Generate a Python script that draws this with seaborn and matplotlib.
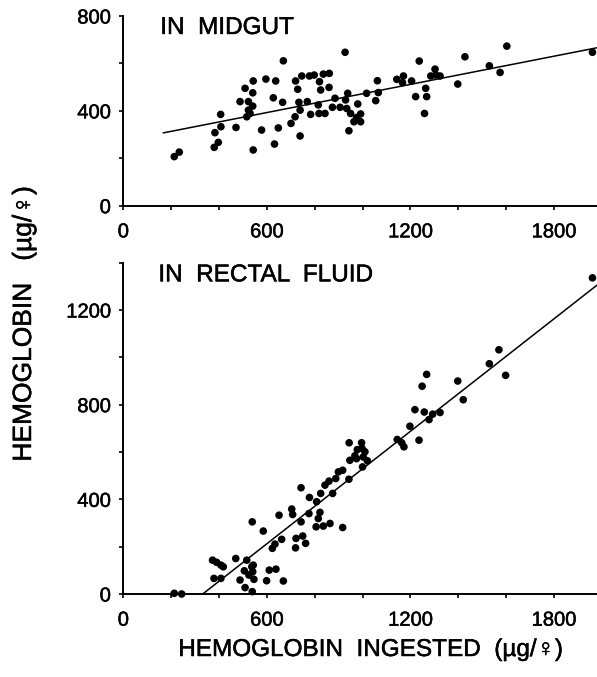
import numpy as np
import pandas as pd
import matplotlib
matplotlib.use("Agg")
import matplotlib.pyplot as plt
import matplotlib.patheffects as pe
import seaborn as sns

# ---- data ----
midgut_x = [213, 234, 380, 397, 383, 408, 407, 471, 488, 509, 523, 523, 516, 530, 541, 543,
            541, 543, 578, 596, 627, 637, 632, 648, 666, 669, 701, 718, 720, 729, 734, 739,
            739, 746, 769, 778, 783, 798, 815, 820, 825, 836, 843, 818, 861, 860, 874, 885,
            906, 927, 938, 929, 934, 943, 950, 964, 980, 992, 992, 975, 1017, 1055, 1062,
            1066, 1143, 1171, 1167, 1205, 1222, 1237, 1259, 1264, 1268, 1285, 1303, 1306,
            1324, 1398, 1428, 1530, 1575, 1603, 1961]
midgut_y = [207, 226, 246, 267, 308, 333, 385, 330, 439, 495, 439, 403, 375, 389, 476, 526,
            420, 235, 319, 534, 455, 526, 260, 328, 436, 611, 347, 375, 526, 491, 436, 403,
            294, 547, 439, 547, 385, 551, 425, 523, 488, 555, 389, 389, 558, 499, 415, 453,
            415, 647, 474, 446, 410, 316, 389, 354, 429, 387, 354, 372, 474, 443, 527,
            477, 533, 547, 519, 526, 460, 610, 389, 495, 460, 547, 576, 551,
            547, 513, 628, 590, 562, 673, 647]

rectal_x = [213, 244, 373, 390, 408, 418, 379, 408, 470, 488, 509, 506, 516, 525, 537, 543,
            541, 546, 539, 539, 585, 599, 610, 638, 669, 623, 634, 662, 651, 704, 708, 720,
            722, 743, 743, 750, 762, 776, 778, 806, 808, 815, 822, 825, 836, 864, 843, 860,
            875, 888, 899, 917, 917, 943, 944, 947, 968, 978, 975, 996, 1000, 1003, 1010,
            1020, 998, 1145, 1164, 1173, 1198, 1219, 1236, 1249, 1258, 1268, 1278, 1293,
            1324, 1398, 1421, 1530, 1570, 1598, 1961]
rectal_y = [3, 0, 143, 134, 122, 115, 66, 66, 150, 59, 27, 98, 143, 80, 115, 122,
            94, 62, 10, 305, 266, 56, 101, 105, 55, 193, 211, 231, 333, 359, 336, 195,
            235, 305, 449, 245, 214, 340, 408, 284, 390, 319, 345, 425, 287, 298, 460, 477,
            425, 488, 516, 523, 281, 485, 639, 565, 584, 610, 572, 639, 537, 579, 601,
            563, 615, 653, 639, 622, 709, 779, 650, 878, 769, 928, 737, 760,
            767, 900, 821, 973, 1032, 924, 1336]

# fitted lines as drawn in the figure
midgut_fit = {"intercept": 274, "slope": 0.198, "x0": 167}
rectal_fit = {"x_intercept": 332, "slope": 0.792}

x_major = [0, 600, 1200, 1800]
top_y_major = [0, 400, 800]
bot_y_major = [0, 400, 800, 1200]

sns.set_style("ticks")
plt.rcParams["font.family"] = ["Liberation Sans", "Noto Sans CJK JP", "DejaVu Sans"]

THICK = [pe.withStroke(linewidth=0.35, foreground="black")]

W, H = 597, 677
fig = plt.figure(figsize=(W / 100, H / 100), dpi=100)

XMAX = 1980
left = 123.3 / W
width = 1.0 - left
ax1 = fig.add_axes([left, (H - 205.7) / H, width, (205.7 - 16) / H])
ax2 = fig.add_axes([left, (H - 594) / H, width, (594 - 262.7) / H])

df1 = pd.DataFrame({"x": midgut_x, "y": midgut_y})
df2 = pd.DataFrame({"x": rectal_x, "y": rectal_y})

for ax, df in ((ax1, df1), (ax2, df2)):
    sns.scatterplot(data=df, x="x", y="y", ax=ax, color="black", s=30,
                    edgecolor="none", linewidth=0, clip_on=False, zorder=3)

# regression lines
xs = np.array([midgut_fit["x0"], XMAX])
ax1.plot(xs, midgut_fit["intercept"] + midgut_fit["slope"] * xs, color="black", lw=1.1, clip_on=False)
xs2 = np.array([rectal_fit["x_intercept"], XMAX])
ax2.plot(xs2, rectal_fit["slope"] * (xs2 - rectal_fit["x_intercept"]), color="black", lw=1.1, clip_on=False)

ax1.set_xlim(0, XMAX)
ax1.set_ylim(0, 800)
ax2.set_xlim(0, XMAX)
ax2.set_ylim(0, 1400)

for ax, ymaj, ymax in ((ax1, top_y_major, 800), (ax2, bot_y_major, 1400)):
    ax.set_xticks(x_major)
    ax.set_xticks(np.arange(0, XMAX, 200), minor=True)
    ax.set_yticks(ymaj)
    ax.set_yticks(np.arange(0, ymax + 1, 200), minor=True)
    ax.tick_params(axis="both", which="both", direction="out", length=3, width=1.2,
                   color="black", labelsize=14.5, labelcolor="black")
    ax.tick_params(axis="x", which="both", pad=9)
    ax.tick_params(axis="y", which="both", pad=6)
    for lab in ax.get_xticklabels() + ax.get_yticklabels():
        lab.set_path_effects(THICK)
    for sp in ("top", "right"):
        ax.spines[sp].set_visible(False)
    for sp in ("left", "bottom"):
        ax.spines[sp].set_color("black")
        ax.spines[sp].set_linewidth(1.4)
    ax.set_xlabel("")
    ax.set_ylabel("")
    ax.set_facecolor("white")

ax1.text(0.078, 0.995, "IN  MIDGUT", transform=ax1.transAxes, ha="left", va="top",
         fontsize=17.5, color="black", path_effects=THICK)
ax2.text(0.074, 0.995, "IN  RECTAL  FLUID", transform=ax2.transAxes, ha="left", va="top",
         fontsize=17.5, color="black", path_effects=THICK)

fig.text(370 / W, (H - 650) / H, "HEMOGLOBIN  INGESTED  (µg/♀)", ha="center", va="center",
         fontsize=17.5, color="black", path_effects=THICK)
fig.text(24 / W, (H - 324) / H, "HEMOGLOBIN   (µg/♀)", ha="center", va="center",
         rotation=90, fontsize=19, color="black", path_effects=THICK)

fig.savefig("out.png", dpi=100, facecolor="white")
